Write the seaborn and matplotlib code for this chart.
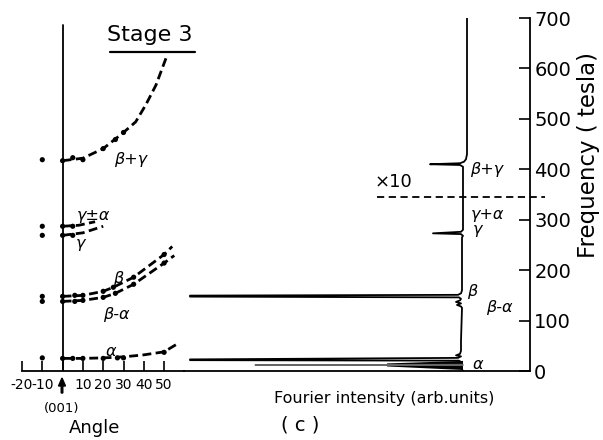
import matplotlib
matplotlib.use("Agg")
import matplotlib.pyplot as plt
import seaborn as sns
import numpy as np

# ---------------- data ----------------
# dots measured at -10 deg
ref_angles = [-10, -10, -10, -10, -10, -10]
ref_freqs = [26, 138, 148, 269, 287, 419]

alpha_dot_ang = [0, 5, 10, 20, 27, 30, 50]
alpha_dot_f = [25, 25, 25, 25, 26, 26, 37]
alpha_curve_ang = [0, 10, 20, 30, 40, 50, 57]
alpha_curve_f = [25, 25, 26, 28, 32, 38, 55]

beta_dot_ang = [0, 6, 10, 20, 25, 35, 50]
beta_dot_f = [148, 150, 150, 158, 166, 186, 231]
beta_curve_ang = [0, 10, 20, 25, 35, 50, 54]
beta_curve_f = [148, 150, 158, 166, 186, 231, 247]

bma_dot_ang = [0, 6, 10, 20, 26, 35, 50]
bma_dot_f = [138, 138, 140, 146, 154, 172, 214]
bma_curve_ang = [0, 10, 20, 26, 35, 50, 55]
bma_curve_f = [138, 140, 146, 154, 172, 214, 229]

gpa_dot_ang = [0, 5]
gpa_dot_f = [287, 287]
gpa_curve_ang = [0, 8, 16]
gpa_curve_f = [287, 289, 296]

gam_dot_ang = [0, 5]
gam_dot_f = [269, 269]
gam_curve_ang = [0, 10, 20]
gam_curve_f = [269, 274, 287]

bpg_dot_ang = [0, 5, 10, 20, 26, 30]
bpg_dot_f = [417, 423, 419, 441, 459, 473]
bpg_curve_ang = [0, 10, 20, 30, 36, 41, 46, 51]
bpg_curve_f = [417, 422, 441, 473, 494, 528, 567, 621]

# Fourier spectrum (frequency in tesla, intensity in arb. units)
spec_f = [700, 430, 420, 415, 412, 410, 408.5, 405, 400,
          290, 280, 276, 273, 271.5, 268, 265,
          200, 160, 154, 151, 149.5, 147.5, 146, 143, 140, 137, 134, 131, 128, 125,
          60, 40, 34, 31, 29, 26, 23, 21.5, 20.5, 18, 15, 8, 3, 0]
spec_i = [-4, -4, -3, -1, 3, 33, 3, 0, 0,
          0, 0, 2, 30, 2, 0, 1,
          1, 1, 2, 5, 273, 273, 4, 2, 3, 7, 2, 6, 2, 1,
          2, 2, 3, 7, 2, 5, 273, 273, 4, 2, 3, 2, 1, 0]
wedge_f = [20, 15, 9, 2]
wedge_i = [0, 76, 76, 0]
grey_f = [13, 12, 11]
grey_i = [0, 208, 0]

angle_ticks = [-20, -10, 0, 10, 20, 30, 40, 50]
angle_labels = ["-20", "-10", "", "10", "20", "30", "40", "50"]
freq_ticks = [0, 100, 200, 300, 400, 500, 600, 700]
x10_level = 346

# ---------------- figure ----------------
sns.set_theme(style="white")
plt.rcParams['font.family'] = ['DejaVu Sans']
plt.rcParams['text.color'] = 'black'
W, H = 603, 440
fig = plt.figure(figsize=(W / 100, H / 100), dpi=100)
bot = (H - 371) / H
hgt = 353 / H
ax1 = fig.add_axes([22 / W, bot, (184 - 22) / W, hgt])
ax2 = fig.add_axes([184 / W, bot, (530 - 184) / W, hgt])
for ax in (ax1, ax2):
    ax.set_facecolor("none")
    ax.set_ylim(0, 700)
    for s in ax.spines.values():
        s.set_visible(False)
        s.set_color("black")
        s.set_linewidth(1.3)
    ax.spines["bottom"].set_visible(True)

# angle panel
ax1.set_xlim(-20, 59.8)
ax1.axvline(0, ymax=686 / 700, color="black", lw=1.3)
dash = (0, (3.2, 1.6))
for ca, cf in [(alpha_curve_ang, alpha_curve_f), (beta_curve_ang, beta_curve_f),
               (bma_curve_ang, bma_curve_f), (gpa_curve_ang, gpa_curve_f),
               (gam_curve_ang, gam_curve_f), (bpg_curve_ang, bpg_curve_f)]:
    sns.lineplot(x=ca, y=cf, ax=ax1, color="black", lw=2.0, linestyle=dash,
                 sort=False, estimator=None)
all_dot_a = ref_angles + alpha_dot_ang + beta_dot_ang + bma_dot_ang + gpa_dot_ang + gam_dot_ang + bpg_dot_ang
all_dot_f = ref_freqs + alpha_dot_f + beta_dot_f + bma_dot_f + gpa_dot_f + gam_dot_f + bpg_dot_f
sns.scatterplot(x=all_dot_a, y=all_dot_f, ax=ax1, color="black", s=14,
                edgecolor="none", zorder=5)
ax1.set_xticks(angle_ticks)
ax1.set_xticklabels(angle_labels)
ax1.set_yticks([])
ax1.tick_params(axis="x", direction="in", length=7, width=1.2, pad=5,
                labelsize=10, bottom=True, colors="black")
ax1.set_xlabel("")
ax1.set_ylabel("")

gk = dict(color="black", fontsize=11.5, fontstyle="italic", ha="center", va="center")
ax1.text(33.5, 419, "β+γ", **gk)
ax1.text(15, 309, "γ±α", **gk)
ax1.text(9, 253, "γ", **gk)
ax1.text(27.5, 184, "β", **gk)
ax1.text(26.6, 112, "β-α", **gk)
ax1.text(23.6, 39, "α", **gk)

# spectrum panel
ax2.set_xlim(279, -67)
sns.lineplot(x=spec_i, y=spec_f, ax=ax2, color="black", lw=1.3, sort=False,
             estimator=None)
ax2.fill(wedge_i, wedge_f, color="black", lw=0)
sns.lineplot(x=grey_i, y=grey_f, ax=ax2, color="#666666", lw=0.9, sort=False,
             estimator=None)
ax2.spines["right"].set_visible(True)
ax2.yaxis.tick_right()
ax2.set_yticks(freq_ticks)
ax2.set_xticks([])
ax2.tick_params(axis="y", direction="in", length=8, width=1.2, pad=3,
                labelsize=14, right=True, colors="black")
ax2.set_xlabel("")
ax2.set_ylabel("")
ax2.plot([86, -82], [x10_level, x10_level], color="black", lw=1.3,
         linestyle=(0, (4, 2.5)), clip_on=False)
ax2.text(70, 374, "×10", fontsize=13, ha="center", va="center", color="black")
ax2.text(-24, 400, "β+γ", **gk)
ax2.text(-24, 311, "γ+α", **gk)
ax2.text(-15, 281, "γ", **gk)
ax2.text(-9, 158, "β", **gk)
ax2.text(-36, 126, "β-α", **gk)
ax2.text(-15, 12, "α", **gk)

# figure texts
fig.text(150 / W, 1 - 35 / H, "Stage 3", fontsize=16, ha="center", va="center")
fig.add_artist(plt.Line2D([110 / W, 195 / W], [1 - 52 / H, 1 - 52 / H],
                          color="black", lw=1.6))
fig.text(589 / W, 1 - 155 / H, "Frequency ( tesla)", fontsize=16.5, rotation=90,
         ha="center", va="center")
fig.text(384 / W, 1 - 398 / H, "Fourier intensity (arb.units)", fontsize=11.5,
         ha="center", va="center")
fig.text(300 / W, 1 - 425 / H, "( c )", fontsize=14, ha="center", va="center")
fig.text(95 / W, 1 - 428 / H, "Angle", fontsize=13, ha="center", va="center")
fig.text(62 / W, 1 - 408 / H, "(001)", fontsize=9.5, ha="center", va="center")
fig.add_artist(matplotlib.patches.FancyArrow(62 / W, 1 - 393 / H, 0, 15 / H,
               width=1.6 / W, head_width=7 / W, head_length=8 / H,
               length_includes_head=True, color="black",
               transform=fig.transFigure))

fig.savefig("out.png", dpi=100)
